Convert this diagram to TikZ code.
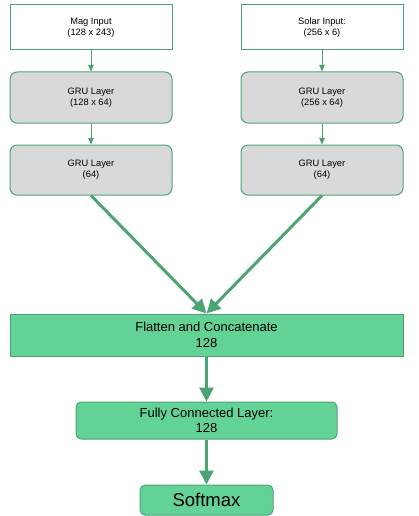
\documentclass[tikz,border=0pt]{standalone}
\usepackage{fontspec}
\setmainfont{Liberation Sans}
\usepackage{xcolor}
\usepackage{tikz}
\usetikzlibrary{arrows.meta}

\definecolor{edgegreen}{RGB}{76,164,116}
\definecolor{boxgreen}{RGB}{99,210,151}
\definecolor{boxgray}{RGB}{217,217,217}

\begin{document}
\begin{tikzpicture}[x=1pt, y=1pt,
inbox/.style={draw=edgegreen, line width=1pt, fill=white, minimum width=162pt, minimum height=45pt, align=center, font=\fontsize{9.3}{11}\selectfont},
grubox/.style={draw=edgegreen, line width=1pt, fill=boxgray, rounded corners=7pt, minimum width=162pt, align=center, font=\fontsize{9.3}{11}\selectfont},
thinarrow/.style={draw=edgegreen, line width=0.9pt, -{Triangle[width=5.5pt, length=6.5pt]}},
bigarrow/.style={draw=edgegreen, line width=3pt, -{Triangle[width=14pt, length=14pt]}}]

\useasboundingbox (0,0) rectangle (418,-516);

% Input branches
\node[inbox] (magin) at (91,-27.5) {Mag Input\\(128 x 243)};
\node[inbox] (solin) at (322,-27.5) {Solar Input:\\(256 x 6)};
\node[grubox, minimum height=51pt] (gruA1) at (91,-97.5) {GRU Layer\\(128 x 64)};
\node[grubox, minimum height=51pt] (gruA2) at (322,-97.5) {GRU Layer\\(256 x 64)};
\node[grubox, minimum height=50pt] (gruB1) at (91,-170) {GRU Layer\\(64)};
\node[grubox, minimum height=50pt] (gruB2) at (322,-170) {GRU Layer\\(64)};

% Merged part
\node[draw=edgegreen, line width=1pt, fill=boxgreen, minimum width=393pt, minimum height=42pt, align=center, font=\fontsize{13}{15.5}\selectfont] (flat) at (206.5,-335) {Flatten and Concatenate\\128};
\node[draw=edgegreen, line width=1pt, fill=boxgreen, rounded corners=5pt, minimum width=261pt, minimum height=37pt, align=center, font=\fontsize{13}{15.5}\selectfont] (dense) at (206.5,-420.5) {Fully Connected Layer:\\128};
\node[draw=edgegreen, line width=1pt, fill=boxgreen, rounded corners=5pt, minimum width=133pt, minimum height=30pt, font=\fontsize{18.5}{20}\selectfont] (soft) at (206.5,-500) {Softmax};

% Connectors
\draw[thinarrow] (magin) -- (gruA1);
\draw[thinarrow] (solin) -- (gruA2);
\draw[thinarrow] (gruA1) -- (gruB1);
\draw[thinarrow] (gruA2) -- (gruB2);
\draw[bigarrow] (gruB1.south) -- (flat.north);
\draw[bigarrow] (gruB2.south) -- (flat.north);
\draw[bigarrow] (flat) -- (dense);
\draw[bigarrow] (dense) -- (soft);
\end{tikzpicture}
\end{document}
